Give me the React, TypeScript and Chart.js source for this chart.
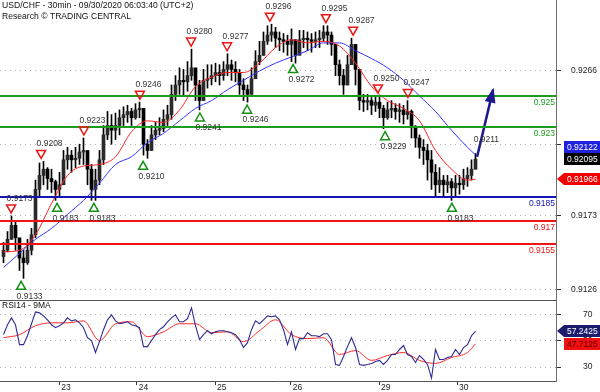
import React, { useEffect, useRef } from "react";
import { Chart, registerables } from "chart.js";

Chart.register(...registerables);

const FONT_FAMILY = '"Liberation Sans", Arial, Helvetica, sans-serif';
const TEXT_COLOR = "#222222";

const TITLE = "USD/CHF - 30min - 09/30/2020 06:03:40 (UTC+2)";
const SUBTITLE = "Research © TRADING CENTRAL";
const RSI_TITLE = "RSI14 - 9MA";

// Price bars (one bar per slot on the x axis)
const CLOSES = [
  0.9151, 0.9158, 0.9167, 0.9159, 0.9146, 0.9143, 0.9151, 0.9161, 0.919, 0.9199,
  0.9203, 0.9197, 0.9195, 0.919, 0.9193, 0.9209, 0.9212, 0.9209, 0.921, 0.9214,
  0.9215, 0.9203, 0.919, 0.9196, 0.9209, 0.9225, 0.9231, 0.9228, 0.9231, 0.9236,
  0.9238, 0.924, 0.9236, 0.9241, 0.9242, 0.9219, 0.9215, 0.9225, 0.9228, 0.9229,
  0.9235, 0.9238, 0.9251, 0.9257, 0.926, 0.9259, 0.9263, 0.9268, 0.9257, 0.9247,
  0.926, 0.9261, 0.9263, 0.9265, 0.9263, 0.9267, 0.927, 0.9267, 0.9265, 0.9257,
  0.9254, 0.9251, 0.9261, 0.9272, 0.9276, 0.9285, 0.9289, 0.9291, 0.9287, 0.9286,
  0.9285, 0.9283, 0.9286, 0.9276, 0.9286, 0.9287, 0.9286, 0.9285, 0.9286, 0.9287,
  0.9291, 0.9289, 0.9283, 0.927, 0.9263, 0.9257, 0.927, 0.9283, 0.9267, 0.9247,
  0.9246, 0.9247, 0.9244, 0.9246, 0.9242, 0.9236, 0.9241, 0.9242, 0.924, 0.9241,
  0.9238, 0.924, 0.923, 0.9223, 0.9217, 0.9215, 0.9209, 0.9201, 0.9193, 0.9196,
  0.9193, 0.9195, 0.9191, 0.9194, 0.9193, 0.9197, 0.9199, 0.9203, 0.92095,
];
const HIGHS = [
  0.9156, 0.9163, 0.9173, 0.9169, 0.9158, 0.9151, 0.9158, 0.9165, 0.9196, 0.9207,
  0.9208, 0.9204, 0.9203, 0.9196, 0.9201, 0.9215, 0.9217, 0.9215, 0.9217, 0.9219,
  0.9223, 0.9214, 0.9206, 0.9203, 0.9215, 0.9231, 0.924, 0.9238, 0.9239, 0.9241,
  0.9243, 0.9244, 0.9242, 0.9245, 0.9246, 0.9242, 0.9222, 0.9231, 0.9233, 0.9236,
  0.9241, 0.9244, 0.9257, 0.9263, 0.9268, 0.9267, 0.9272, 0.928, 0.9267, 0.926,
  0.9267, 0.927, 0.927, 0.9271, 0.927, 0.9272, 0.9277, 0.9273, 0.9272, 0.9267,
  0.9261, 0.9257, 0.9268, 0.9279, 0.9285, 0.9291, 0.9295, 0.9296, 0.9294, 0.9291,
  0.929, 0.9289, 0.9293, 0.9286, 0.9292, 0.9292, 0.9291, 0.929, 0.9291, 0.9292,
  0.9295, 0.9295, 0.9291, 0.9283, 0.9273, 0.9267, 0.9276, 0.9287, 0.9283, 0.9263,
  0.9251, 0.9251, 0.9249, 0.925, 0.925, 0.9244, 0.9246, 0.9247, 0.9245, 0.9245,
  0.9244, 0.9247, 0.9241, 0.9231, 0.9225, 0.9222, 0.9219, 0.9215, 0.9206, 0.9204,
  0.9199, 0.9199, 0.9197, 0.9199, 0.9199, 0.9203, 0.9204, 0.9209, 0.9213,
];
const LOWS = [
  0.9143, 0.915, 0.9158, 0.9151, 0.9138, 0.9133, 0.9142, 0.9148, 0.9159, 0.9186,
  0.9193, 0.919, 0.9188, 0.9183, 0.9185, 0.9196, 0.9203, 0.9201, 0.9204, 0.9206,
  0.9206, 0.9193, 0.9183, 0.9183, 0.9193, 0.9206, 0.9222, 0.9219, 0.9222, 0.9225,
  0.9231, 0.9233, 0.9231, 0.9235, 0.9236, 0.9212, 0.921, 0.9215, 0.9222, 0.9225,
  0.9227, 0.9231, 0.9235, 0.9247, 0.9251, 0.925, 0.9253, 0.926, 0.9247, 0.9241,
  0.9247, 0.9255, 0.9257, 0.9259, 0.9257, 0.926, 0.9263, 0.926, 0.9259, 0.9251,
  0.9247, 0.9246, 0.9251, 0.9263, 0.927, 0.9276, 0.9283, 0.9285, 0.9281, 0.9279,
  0.9278, 0.9276, 0.9272, 0.9271, 0.9279, 0.9281, 0.9279, 0.9278, 0.9281, 0.9281,
  0.9285, 0.9283, 0.9276, 0.9263, 0.9257, 0.9251, 0.9257, 0.9273, 0.9257, 0.9241,
  0.924, 0.9241, 0.9238, 0.924, 0.9236, 0.9229, 0.9235, 0.9236, 0.9235, 0.9233,
  0.9232, 0.9235, 0.9223, 0.9217, 0.921, 0.9206, 0.9196, 0.919, 0.9186, 0.9188,
  0.9186, 0.9188, 0.9183, 0.9186, 0.9187, 0.919, 0.9192, 0.9196, 0.9203,
];
const FIRST_OPEN = 0.9147;

// Moving averages, sampled at these bar slots
const MA_BARS = [0, 4, 8, 12, 16, 20, 24, 28, 32, 36, 40, 44, 48, 52, 56, 60, 64, 68, 72, 76, 80, 84, 88, 92, 96, 100, 104, 108, 112, 116, 118];
const MA_FAST = [
  0.915, 0.9151, 0.9161, 0.9181, 0.9199, 0.9205, 0.9206, 0.9211, 0.9227, 0.9234,
  0.9233, 0.9241, 0.9256, 0.9262, 0.9265, 0.9265, 0.9271, 0.9281, 0.9286, 0.9284,
  0.9285, 0.9282, 0.9271, 0.9256, 0.9247, 0.9242, 0.9234, 0.9215, 0.9203, 0.9196, 0.91966,
];
const MA_SLOW = [
  0.914, 0.9149, 0.9158, 0.9165, 0.9174, 0.9183, 0.9194, 0.9206, 0.9211, 0.922,
  0.9226, 0.9234, 0.9242, 0.9247, 0.9254, 0.926, 0.9266, 0.9271, 0.9275, 0.9279,
  0.9284, 0.9284, 0.9279, 0.9274, 0.9268, 0.926, 0.925, 0.924, 0.9228, 0.9217, 0.92122,
];

// RSI(14) per bar and its 9-period MA (sampled at MA_BARS)
const RSI_VALUES = [
  54.7, 62.2, 67.5, 62.2, 47.1, 47.1, 53.9, 63.0, 72.0, 71.3,
  69.0, 66.0, 62.2, 60.0, 61.5, 63.7, 67.5, 65.2, 66.0, 63.7,
  60.0, 52.4, 50.2, 41.1, 49.4, 58.5, 66.0, 69.8, 65.2, 63.0,
  63.7, 64.5, 62.2, 61.5, 60.0, 45.6, 45.6, 50.2, 54.7, 58.5,
  60.7, 64.5, 67.5, 69.8, 64.5, 64.5, 66.8, 75.1, 61.5, 50.9,
  54.7, 57.7, 55.4, 56.9, 57.7, 57.7, 56.9, 56.2, 54.7, 50.9,
  44.9, 48.6, 58.5, 65.2, 63.0, 66.0, 69.0, 68.3, 69.0, 66.0,
  58.5, 47.1, 56.9, 43.4, 51.7, 51.7, 56.2, 53.9, 53.9, 53.2,
  55.4, 55.4, 50.9, 32.0, 31.3, 38.1, 45.6, 52.4, 44.9, 32.0,
  31.3, 32.0, 32.8, 34.3, 35.1, 32.0, 35.1, 39.6, 39.6, 43.4,
  46.4, 39.6, 38.1, 33.5, 38.8, 35.8, 32.0, 21.5, 43.4, 35.8,
  35.8, 37.3, 38.1, 43.4, 39.6, 44.9, 47.1, 53.9, 57.2425,
];
const RSI_MA = [
  52.4, 54.7, 61.5, 63.7, 63.7, 65.2, 50.2, 63.0, 64.5, 53.2,
  56.9, 63.0, 63.0, 56.2, 56.9, 49.4, 57.7, 66.0, 54.7, 51.7,
  52.4, 39.6, 42.6, 35.1, 38.8, 41.1, 35.1, 32.8, 37.3, 41.1, 47.7125,
];

const PRICE_TICKS = [0.9126, 0.9173, 0.9219, 0.9266];
const RSI_TICKS = [30, 50, 70];
const DAY_TICK_BARS = [13.95, 33.3, 52.875, 71.8, 93.875, 113.375];
const DAY_LABELS = ["23", "24", "25", "26", "29", "30"];

const LEVEL_VALUES = [0.925, 0.923, 0.9185, 0.917, 0.9155];
const LEVEL_COLORS = ["#1c9c1c", "#1c9c1c", "#1414b4", "#f01414", "#f01414"];

const HIGH_MARK_BARS = [1.9, 9.4, 20.1, 34.1, 46.9, 55.9, 66.6, 80.6, 87.4, 93.6, 101.1];
const HIGH_MARK_VALUES = [0.9173, 0.9208, 0.9223, 0.9246, 0.928, 0.9277, 0.9296, 0.9295, 0.9287, 0.925, 0.9247];
const LOW_MARK_BARS = [4.4, 13.4, 22.6, 34.9, 49.1, 60.9, 72.4, 95.4, 112.1];
const LOW_MARK_VALUES = [0.9133, 0.9183, 0.9183, 0.921, 0.9241, 0.9246, 0.9272, 0.9229, 0.9183];
const TARGET_BAR = 118.6;
const TARGET_VALUE = 0.9211;

const ARROW_BARS = [118.4, 122.4];
const ARROW_VALUES = [0.9211, 0.9254];

const X_MIN = -0.875;
const X_MAX = 138.125;
const PRICE_MIN = 0.91191;
const PRICE_MAX = 0.93115;
const RSI_MIN = 19.4;
const RSI_MAX = 81.1;

const font = (size: number) => `${size}px ${FONT_FAMILY}`;

function drawValueBox(
  ctx: CanvasRenderingContext2D,
  text: string,
  cy: number,
  fill: string,
  textColor: string,
  arrow: boolean
) {
  const left = 564;
  const right = 600;
  const h = 12;
  const top = Math.round(cy - h / 2);
  ctx.beginPath();
  if (arrow) {
    ctx.moveTo(557, top + h / 2);
    ctx.lineTo(left, top);
    ctx.lineTo(right, top);
    ctx.lineTo(right, top + h);
    ctx.lineTo(left, top + h);
    ctx.closePath();
  } else {
    ctx.rect(left, top, right - left, h);
  }
  ctx.fillStyle = fill;
  ctx.fill();
  ctx.fillStyle = textColor;
  ctx.font = font(8.5);
  ctx.textAlign = "left";
  ctx.textBaseline = "middle";
  ctx.fillText(text, left + 3, top + h / 2 + 0.5);
}

const priceOverlay = {
  id: "priceOverlay",
  afterDatasetsDraw(chart: any) {
    const { ctx, chartArea } = chart;
    const xs = chart.scales.x;
    const ys = chart.scales.y;
    ctx.save();
    // support / resistance levels
    LEVEL_VALUES.forEach((v, k) => {
      const y = Math.round(ys.getPixelForValue(v));
      ctx.strokeStyle = LEVEL_COLORS[k];
      ctx.lineWidth = 2;
      ctx.beginPath();
      ctx.moveTo(chartArea.left, y);
      ctx.lineTo(chartArea.right, y);
      ctx.stroke();
      ctx.fillStyle = LEVEL_COLORS[k];
      ctx.font = font(8.5);
      ctx.textAlign = "right";
      ctx.textBaseline = "middle";
      ctx.fillText(String(v), chartArea.right - 1, y + 7);
    });
    // highs
    ctx.lineWidth = 1.5;
    HIGH_MARK_BARS.forEach((b, k) => {
      const x = xs.getPixelForValue(b);
      const ty = ys.getPixelForValue(HIGH_MARK_VALUES[k]) - 7;
      ctx.strokeStyle = "#e81818";
      ctx.beginPath();
      ctx.moveTo(x - 4.5, ty - 4);
      ctx.lineTo(x + 4.5, ty - 4);
      ctx.lineTo(x, ty + 4);
      ctx.closePath();
      ctx.stroke();
      ctx.fillStyle = "#333";
      ctx.font = font(8.5);
      ctx.textAlign = "center";
      ctx.textBaseline = "middle";
      ctx.fillText(HIGH_MARK_VALUES[k].toFixed(4), x + 8.5, ty - 10.5);
    });
    // lows
    LOW_MARK_BARS.forEach((b, k) => {
      const x = xs.getPixelForValue(b);
      const ty = ys.getPixelForValue(LOW_MARK_VALUES[k]) + 7;
      ctx.strokeStyle = "#179017";
      ctx.beginPath();
      ctx.moveTo(x - 4.5, ty + 4);
      ctx.lineTo(x + 4.5, ty + 4);
      ctx.lineTo(x, ty - 4);
      ctx.closePath();
      ctx.stroke();
      ctx.fillStyle = "#333";
      ctx.font = font(8.5);
      ctx.textAlign = "center";
      ctx.textBaseline = "middle";
      ctx.fillText(LOW_MARK_VALUES[k].toFixed(4), x + 8.5, ty + 11);
    });
    // target label
    {
      const x = xs.getPixelForValue(TARGET_BAR);
      const ty = ys.getPixelForValue(TARGET_VALUE) - 7;
      ctx.fillStyle = "#333";
      ctx.textAlign = "center";
      ctx.fillText(TARGET_VALUE.toFixed(4), x + 8.5, ty - 10.5);
    }
    // arrow head
    {
      const x1 = xs.getPixelForValue(ARROW_BARS[0]);
      const y1 = ys.getPixelForValue(ARROW_VALUES[0]);
      const x2 = xs.getPixelForValue(ARROW_BARS[1]);
      const y2 = ys.getPixelForValue(ARROW_VALUES[1]);
      const a = Math.atan2(y2 - y1, x2 - x1);
      const len = 13;
      const hw = 5.5;
      const bx = x2 - len * Math.cos(a);
      const by = y2 - len * Math.sin(a);
      ctx.fillStyle = "#1a1a8c";
      ctx.beginPath();
      ctx.moveTo(x2 + 2 * Math.cos(a), y2 + 2 * Math.sin(a));
      ctx.lineTo(bx + hw * Math.sin(a), by - hw * Math.cos(a));
      ctx.lineTo(bx - hw * Math.sin(a), by + hw * Math.cos(a));
      ctx.closePath();
      ctx.fill();
    }
    ctx.restore();
  },
  afterDraw(chart: any) {
    const { ctx } = chart;
    const ys = chart.scales.y;
    ctx.save();
    ctx.fillStyle = "#111";
    ctx.font = font(8.6);
    ctx.textAlign = "left";
    ctx.textBaseline = "middle";
    ctx.fillText(TITLE, 2, 6);
    ctx.fillText(SUBTITLE, 2, 16.5);

    const closeVal = CLOSES[CLOSES.length - 1];
    const slowVal = MA_SLOW[MA_SLOW.length - 1];
    const fastVal = MA_FAST[MA_FAST.length - 1];
    const blackY = ys.getPixelForValue(closeVal);
    const blueY = Math.min(ys.getPixelForValue(slowVal), blackY - 12);
    const redY = ys.getPixelForValue(fastVal);
    drawValueBox(ctx, slowVal.toFixed(5), blueY, "#2020e0", "#ffffff", false);
    drawValueBox(ctx, closeVal.toFixed(5), blackY, "#000000", "#ffffff", false);
    drawValueBox(ctx, fastVal.toFixed(5), redY, "#f00000", "#ffffff", true);
    ctx.restore();
  },
};

const rsiOverlay = {
  id: "rsiOverlay",
  afterDraw(chart: any) {
    const { ctx, chartArea } = chart;
    const ys = chart.scales.y;
    ctx.save();
    ctx.strokeStyle = "#555";
    ctx.lineWidth = 1;
    ctx.beginPath();
    ctx.moveTo(0, 0.5);
    ctx.lineTo(chartArea.right + 1, 0.5);
    ctx.stroke();
    ctx.fillStyle = "#111";
    ctx.font = font(8.5);
    ctx.textAlign = "left";
    ctx.textBaseline = "middle";
    ctx.fillText(RSI_TITLE, 2, 6);
    const rsiLast = RSI_VALUES[RSI_VALUES.length - 1];
    const maLast = RSI_MA[RSI_MA.length - 1];
    drawValueBox(ctx, rsiLast.toFixed(4), ys.getPixelForValue(rsiLast), "#1c1c6e", "#ffffff", true);
    drawValueBox(ctx, maLast.toFixed(4), ys.getPixelForValue(maLast), "#f01010", "#5a0000", false);
    ctx.restore();
  },
};

export default function App() {
  const topRef = useRef<HTMLCanvasElement | null>(null);
  const botRef = useRef<HTMLCanvasElement | null>(null);

  useEffect(() => {
    if (!topRef.current || !botRef.current) return;

    const opens = CLOSES.map((c, i) => (i === 0 ? FIRST_OPEN : CLOSES[i - 1]));
    const wickData = CLOSES.map((_, i) => ({ x: i, y: [LOWS[i], HIGHS[i]] }));
    const bodyData = CLOSES.map((c, i) => ({ x: i, y: [opens[i], c] }));
    const bodyFill = CLOSES.map((c, i) => (c >= opens[i] ? "#2a2a2a" : "#000000"));

    const top = new Chart(topRef.current, {
      type: "bar",
      data: {
        datasets: [
          {
            type: "line",
            label: "MA fast",
            data: MA_BARS.map((b, k) => ({ x: b, y: MA_FAST[k] })),
            borderColor: "#ff2020",
            borderWidth: 1,
            pointRadius: 0,
            cubicInterpolationMode: "monotone",
            order: 0,
          } as any,
          {
            type: "line",
            label: "MA slow",
            data: MA_BARS.map((b, k) => ({ x: b, y: MA_SLOW[k] })),
            borderColor: "#3434ff",
            borderWidth: 1,
            pointRadius: 0,
            cubicInterpolationMode: "monotone",
            order: 0,
          } as any,
          {
            type: "line",
            label: "Arrow",
            data: ARROW_BARS.map((b, k) => ({ x: b, y: ARROW_VALUES[k] })),
            borderColor: "#1a1a8c",
            borderWidth: 2.5,
            pointRadius: 0,
            order: 0,
          } as any,
          {
            type: "bar",
            label: "Body",
            data: bodyData,
            backgroundColor: bodyFill,
            borderWidth: 0,
            borderSkipped: false,
            barThickness: 3,
            minBarLength: 1,
            grouped: false,
            order: 1,
          } as any,
          {
            type: "bar",
            label: "Wick",
            data: wickData,
            backgroundColor: "#000000",
            barThickness: 1,
            grouped: false,
            order: 2,
          } as any,
        ],
      },
      options: {
        responsive: false,
        maintainAspectRatio: false,
        animation: false,
        devicePixelRatio: 1,
        events: [],
        layout: { padding: 0 },
        plugins: { legend: { display: false }, tooltip: { enabled: false } },
        scales: {
          x: {
            type: "linear",
            display: false,
            min: X_MIN,
            max: X_MAX,
            offset: false,
          },
          y: {
            type: "linear",
            position: "right",
            min: PRICE_MIN,
            max: PRICE_MAX,
            bounds: "data",
            beginAtZero: false,
            afterBuildTicks: (s: any) => {
              s.ticks = PRICE_TICKS.map((v) => ({ value: v }));
            },
            afterFit: (s: any) => {
              s.width = 44;
              s.paddingTop = 0;
              s.paddingBottom = 0;
            },
            ticks: {
              callback: (v: any) => Number(v).toFixed(4),
              font: { family: FONT_FAMILY, size: 8.5 },
              color: TEXT_COLOR,
              padding: 10,
              crossAlign: "near",
              autoSkip: false,
            },
            grid: {
              color: "#b0b0b0",
              lineWidth: 1,
              drawTicks: true,
              tickLength: 5,
              tickColor: "#333333",
              tickWidth: 1,
            },
            border: { display: true, color: "#707070", width: 1, dash: [1, 4] },
          },
        },
      } as any,
      plugins: [priceOverlay],
    });

    const bottom = new Chart(botRef.current, {
      type: "line",
      data: {
        datasets: [
          {
            label: "RSI14",
            data: RSI_VALUES.map((v, i) => ({ x: i, y: v })),
            borderColor: "#2c2c94",
            borderWidth: 1.1,
            pointRadius: 0,
            order: 0,
          },
          {
            label: "9MA",
            data: MA_BARS.map((b, k) => ({ x: b, y: RSI_MA[k] })),
            borderColor: "#ff2828",
            borderWidth: 1,
            pointRadius: 0,
            cubicInterpolationMode: "monotone",
            order: 1,
          } as any,
        ],
      },
      options: {
        responsive: false,
        maintainAspectRatio: false,
        animation: false,
        devicePixelRatio: 1,
        events: [],
        layout: { padding: 0 },
        plugins: { legend: { display: false }, tooltip: { enabled: false } },
        scales: {
          x: {
            type: "linear",
            min: X_MIN,
            max: X_MAX,
            offset: false,
            afterBuildTicks: (s: any) => {
              s.ticks = DAY_TICK_BARS.map((v) => ({ value: v }));
            },
            afterFit: (s: any) => {
              s.height = 11;
              s.paddingLeft = 0;
              s.paddingRight = 0;
            },
            ticks: {
              callback: (_v: any, i: number) => DAY_LABELS[i],
              autoSkip: false,
              maxRotation: 0,
              minRotation: 0,
              align: "start",
              labelOffset: 2,
              padding: -2,
              font: { family: FONT_FAMILY, size: 8.5 },
              color: TEXT_COLOR,
            },
            grid: { drawOnChartArea: false, drawTicks: true, tickLength: 4, tickColor: "#333333" },
            border: { display: true, color: "#555555" },
          },
          y: {
            type: "linear",
            position: "right",
            min: RSI_MIN,
            max: RSI_MAX,
            bounds: "data",
            afterBuildTicks: (s: any) => {
              s.ticks = RSI_TICKS.map((v) => ({ value: v }));
            },
            afterFit: (s: any) => {
              s.width = 44;
              s.paddingTop = 0;
              s.paddingBottom = 0;
            },
            ticks: {
              callback: (v: any) => String(v),
              font: { family: FONT_FAMILY, size: 8.5 },
              color: TEXT_COLOR,
              padding: 22,
              crossAlign: "near",
              autoSkip: false,
            },
            grid: {
              color: "#b0b0b0",
              lineWidth: 1,
              drawTicks: true,
              tickLength: 5,
              tickColor: "#333333",
            },
            border: { display: true, color: "#707070", width: 1, dash: [1, 4] },
          },
        },
      } as any,
      plugins: [rsiOverlay],
    });

    return () => {
      top.destroy();
      bottom.destroy();
    };
  }, []);

  return (
    <div
      style={{
        position: "absolute",
        left: 0,
        top: 0,
        width: 600,
        height: 392,
        background: "#ffffff",
        overflow: "hidden",
      }}
    >
      <canvas
        ref={topRef}
        width={600}
        height={300}
        style={{ position: "absolute", left: 0, top: 0, width: 600, height: 300, display: "block" }}
      />
      <canvas
        ref={botRef}
        width={600}
        height={92}
        style={{ position: "absolute", left: 0, top: 300, width: 600, height: 92, display: "block" }}
      />
    </div>
  );
}
